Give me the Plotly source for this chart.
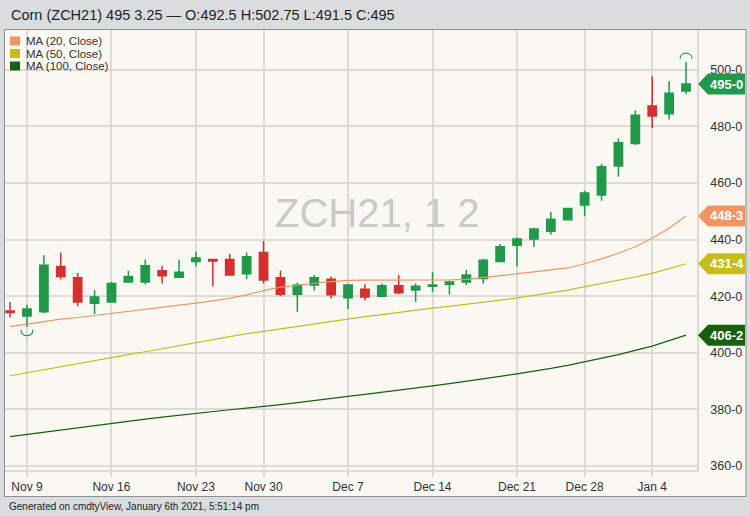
import plotly.graph_objects as go

# ---------------- data ----------------
dates = ["2020-11-06", "2020-11-09", "2020-11-10", "2020-11-11", "2020-11-12", "2020-11-13",
         "2020-11-16", "2020-11-17", "2020-11-18", "2020-11-19", "2020-11-20",
         "2020-11-23", "2020-11-24", "2020-11-25", "2020-11-27",
         "2020-11-30", "2020-12-01", "2020-12-02", "2020-12-03", "2020-12-04",
         "2020-12-07", "2020-12-08", "2020-12-09", "2020-12-10", "2020-12-11",
         "2020-12-14", "2020-12-15", "2020-12-16", "2020-12-17", "2020-12-18",
         "2020-12-21", "2020-12-22", "2020-12-23", "2020-12-24",
         "2020-12-28", "2020-12-29", "2020-12-30", "2020-12-31",
         "2021-01-04", "2021-01-05", "2021-01-06"]

opens = [414.75, 413, 414.5, 430.5, 426.5, 417.5,
         418, 425, 425, 429, 426.75,
         432.25, 433, 433, 428,
         435.5, 426.5, 420.75, 424, 426,
         419.5, 422.5, 420, 423.75, 422.25,
         423.5, 424.25, 425, 426.25, 432.25,
         438, 440.25, 443, 447,
         452.25, 455.75, 466, 474,
         487.25, 484.5, 492.5]
highs = [418, 417, 434.5, 435.5, 428.25, 422.25,
         425, 429, 433, 430.75, 433,
         435.75, 433.25, 435, 435.5,
         439.5, 429, 424.75, 427.5, 427,
         424.5, 424.25, 424.5, 427.5, 424.5,
         428.5, 425.5, 429.25, 433.25, 438.5,
         440.75, 444.25, 449.75, 451.25,
         457.25, 466.75, 475.75, 485.75,
         497.75, 496, 502.75]
lows = [412.5, 409.25, 414, 426, 416.5, 413.75,
        417.75, 424.75, 424.25, 424.5, 426.5,
        430.5, 423.5, 427.25, 426,
        424.5, 420, 414.5, 422, 419.25,
        415.5, 418.5, 419.75, 420.75, 418,
        421.5, 420.5, 424, 424.5, 432,
        430.5, 437.5, 441.75, 446.75,
        448.25, 453.75, 462.25, 473.5,
        479.5, 482.5, 491.5]
closes = [414.25, 415.5, 431, 427, 418, 419.75,
          424.5, 427, 430.75, 427.25, 428.5,
          433.5, 432.5, 427.5, 434,
          425.75, 420.75, 424, 426.5, 420.5,
          424, 419.75, 423.75, 421.25, 423.5,
          424, 425, 427.5, 432.75, 437.5,
          440.25, 443.75, 447.25, 451,
          456.5, 465.75, 474.25, 484,
          483.75, 491.75, 495]

ma20 = [409.3, 410.2, 411.2, 411.9, 412.5, 413.2, 414.0, 414.7, 415.4, 416.0, 416.7,
        417.6, 418.4, 419.3, 420.5, 422.0, 423.2, 424.0, 424.6, 425.2,
        425.6, 425.7, 425.7, 425.6, 425.6, 425.7, 425.8, 426.0, 426.6, 427.3,
        428.0, 428.6, 429.3, 430.0, 431.5, 433.2, 435.2, 437.5, 440.5, 444.0, 448.375]
ma50 = [391.9, 393.0, 394.0, 395.1, 396.2, 397.3, 398.3, 399.4, 400.4, 401.5, 402.6,
        403.7, 404.8, 405.9, 406.8, 407.6, 408.5, 409.4, 410.2, 411.1,
        412.0, 412.8, 413.5, 414.3, 415.0, 415.8, 416.4, 417.1, 417.8, 418.6,
        419.4, 420.3, 421.2, 422.2, 423.4, 424.5, 425.6, 426.8, 428.1, 429.7, 431.5]
ma100 = [370.4, 371.2, 372.0, 372.8, 373.6, 374.4, 375.2, 375.9, 376.6, 377.3, 378.0,
         378.7, 379.3, 379.9, 380.5, 381.0, 381.7, 382.4, 383.2, 383.9,
         384.6, 385.3, 386.0, 386.7, 387.5, 388.3, 389.1, 389.9, 390.8, 391.7,
         392.6, 393.5, 394.5, 395.6, 396.8, 398.0, 399.4, 400.9, 402.4, 404.3, 406.25]

tick_dates = ["2020-11-09", "2020-11-16", "2020-11-23", "2020-11-30", "2020-12-07",
              "2020-12-14", "2020-12-21", "2020-12-28", "2021-01-04"]
tick_text = ["Nov 9", "Nov 16", "Nov 23", "Nov 30", "Dec 7", "Dec 14", "Dec 21", "Dec 28", "Jan 4"]
y_ticks = [360, 380, 400, 420, 440, 460, 480, 500]
y_tick_text = ["360-0", "380-0", "400-0", "420-0", "440-0", "460-0", "480-0", "500-0"]

ma_names = ["MA (20, Close)", "MA (50, Close)", "MA (100, Close)"]
tag_values = [495.0, 448.375, 431.5, 406.25]
tag_labels = ["495-0", "448-3", "431-4", "406-2"]

title_text = "Corn (ZCH21) 495 3.25 \u2014 O:492.5 H:502.75 L:491.5 C:495"
watermark = "ZCH21, 1 2"
footer = "Generated on cmdtyView, January 6th 2021, 5:51:14 pm"

# ---------------- styling ----------------
W, H = 750, 516
ML, MR, MT, MB = 5, 53, 30, 46
PW, PH = W - ML - MR, H - MT - MB


def px(x):
    return (x - ML) / PW


def py(y):
    return (H - MB - y) / PH


GREEN = "#21994a"
RED = "#d3302f"
C20 = "#f39563"
C50 = "#c6bd1c"
C100 = "#17600f"
CREAM = "#faf8f3"
GREYBG = "#dadde0"
GRID = "#dedbd6"
FONT = "Liberation Sans, Arial, sans-serif"
NARROW = "Liberation Sans Narrow, Arial Narrow, Liberation Sans, Arial, sans-serif"

fig = go.Figure()

for vals, col in zip([ma100, ma50, ma20], [C100, C50, C20]):
    fig.add_trace(go.Scatter(x=dates, y=vals, mode="lines",
                             line=dict(color=col, width=1.2), hoverinfo="skip"))

fig.add_trace(go.Candlestick(
    x=dates, open=opens, high=highs, low=lows, close=closes,
    increasing=dict(line=dict(color=GREEN, width=1.5), fillcolor=GREEN),
    decreasing=dict(line=dict(color=RED, width=1.5), fillcolor=RED),
    whiskerwidth=0,
))

shapes = []
annotations = []

# cream chart panel
shapes.append(dict(type="rect", xref="paper", yref="paper", layer="below",
                   x0=px(4.5), x1=px(746), y0=py(496.5), y1=py(29.5),
                   fillcolor=CREAM, line=dict(color="#8e8e8e", width=1)))

# high / low markers
i_hi = highs.index(max(highs))
i_lo = lows.index(min(lows))
shapes.append(dict(type="path", xref="x", yref="y", xsizemode="pixel", ysizemode="pixel",
                   xanchor=dates[i_hi], yanchor=highs[i_hi],
                   path="M-6,3 C-6,11 6,11 6,3", line=dict(color=GREEN, width=1.2)))
shapes.append(dict(type="path", xref="x", yref="y", xsizemode="pixel", ysizemode="pixel",
                   xanchor=dates[i_lo], yanchor=lows[i_lo],
                   path="M-6,-3 C-6,-11 6,-11 6,-3", line=dict(color=GREEN, width=1.2)))

# price tags on the right axis
for val, lab, col in zip(tag_values, tag_labels, [GREEN, C20, C50, C100]):
    shapes.append(dict(type="path", xref="paper", yref="y", xsizemode="pixel", ysizemode="pixel",
                       xanchor=1, yanchor=val,
                       path="M1,0 L11,10.5 L48,10.5 L48,-10.5 L11,-10.5 Z",
                       fillcolor=col, line=dict(width=0)))
    annotations.append(dict(xref="paper", yref="y", x=1, y=val, xshift=29.5,
                            xanchor="center", yanchor="middle",
                            text="<b>%s</b>" % lab, showarrow=False,
                            font=dict(family=FONT, size=13, color="white")))

# manual legend
for k, (name, col) in enumerate(zip(ma_names, [C20, C50, C100])):
    yc = 41 + k * 12.5
    shapes.append(dict(type="rect", xref="paper", yref="paper",
                       x0=px(10), x1=px(20), y0=py(yc + 4.5), y1=py(yc - 4.5),
                       fillcolor=col, line=dict(width=0)))
    annotations.append(dict(xref="paper", yref="paper", x=px(23.5), y=py(yc),
                            xanchor="left", yanchor="middle", text=name, showarrow=False,
                            font=dict(family=FONT, size=11.5, color="#333333")))

# watermark
annotations.append(dict(xref="paper", yref="paper", x=px(377), y=py(213),
                        text=watermark, showarrow=False,
                        font=dict(family=FONT, size=40, color="#c9c9c9")))
# title
annotations.append(dict(xref="paper", yref="paper", x=px(9), y=py(14.5),
                        xanchor="left", yanchor="middle", text=title_text, showarrow=False,
                        font=dict(family=FONT, size=14.5, color="#222222")))
# footer
annotations.append(dict(xref="paper", yref="paper", x=px(7), y=py(506),
                        xanchor="left", yanchor="middle", text=footer, showarrow=False,
                        font=dict(family=NARROW, size=10, color="#222222")))

fig.update_layout(
    width=W, height=H,
    margin=dict(l=ML, r=MR, t=MT, b=MB, pad=0),
    paper_bgcolor=GREYBG, plot_bgcolor=CREAM,
    showlegend=False,
    shapes=shapes, annotations=annotations,
    xaxis=dict(type="category", range=[-0.3, 40.65], rangeslider=dict(visible=False),
               tickmode="array", tickvals=tick_dates, ticktext=tick_text,
               showgrid=True, gridcolor=GRID, gridwidth=1.5,
               ticks="outside", ticklen=5, tickcolor=GRID, tickwidth=1.5,
               showline=True, linecolor=GRID, linewidth=2,
               tickfont=dict(family=NARROW, size=12, color="#333333"),
               fixedrange=True),
    yaxis=dict(side="right", range=[358.6, 514.1],
               tickmode="array", tickvals=y_ticks, ticktext=y_tick_text,
               showgrid=True, gridcolor=GRID, gridwidth=2, zeroline=False,
               ticks="outside", ticklen=9, tickcolor="rgba(0,0,0,0)",
               showline=True, linecolor=GRID, linewidth=1.5,
               tickfont=dict(family=FONT, size=12.5, color="#333333"),
               fixedrange=True),
)

fig.write_html("out.html", config=dict(displayModeBar=False),
               post_script="document.body.style.margin='0';document.body.style.overflow='hidden';")
